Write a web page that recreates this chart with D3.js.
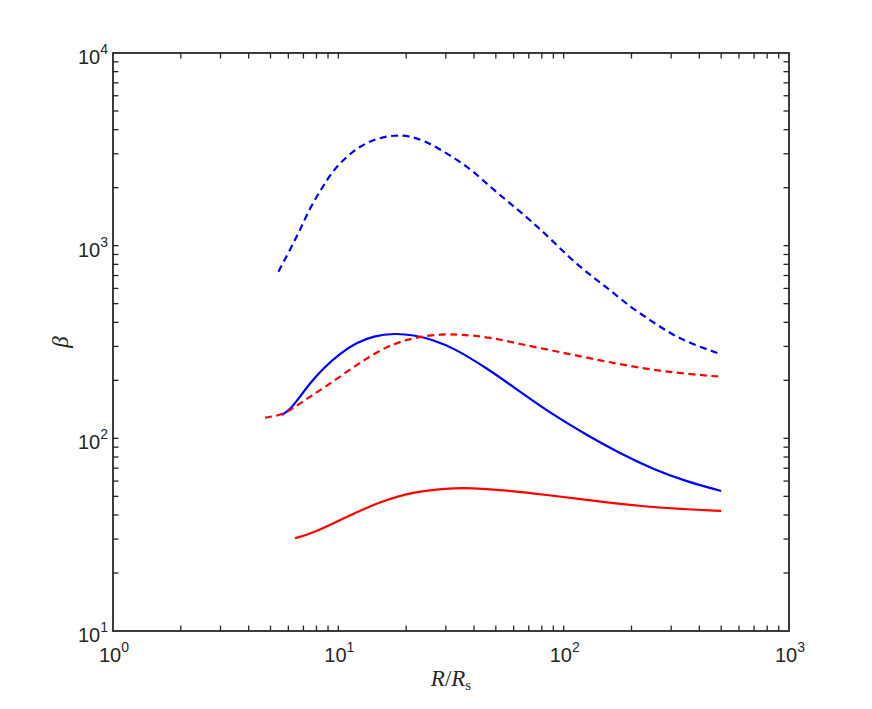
<!DOCTYPE html>
<html>
<head>
<meta charset="utf-8">
<script src="https://cdn.jsdelivr.net/npm/d3@7"></script>
<style>
  html, body { margin: 0; padding: 0; background: #fff; }
  svg { display: block; }
</style>
</head>
<body>
<svg id="chart" width="872" height="709"></svg>
<script>
// ---- Data (R/Rs, beta) ----
const blueDashedR = [5.42, 6.10, 6.76, 7.48, 8.44, 9.50, 10.9, 12.5, 14.8, 17.8, 20.8, 24.7, 30.3, 38.4, 47.1, 57.8, 70.9, 87.0, 106.7, 130.9, 160.6, 197, 241.6, 296.5, 363.7, 500];
const blueDashedB = [733, 950, 1206, 1569, 1985, 2470, 2896, 3291, 3608, 3752, 3708, 3464, 3016, 2521, 2024, 1659, 1359, 1092, 860, 704, 589, 482, 411, 351, 311, 273];

const blueSolidR = [5.61, 6.10, 6.76, 7.48, 8.58, 10.17, 12.06, 14.30, 17.8, 21.5, 26.4, 32.4, 45.5, 64.0, 89.9, 126.6, 177.8, 250, 351.6, 500];
const blueSolidB = [132.2, 140.3, 164.5, 193.1, 230.9, 276.3, 313.6, 339.8, 351, 343.9, 323.9, 295, 232, 174.7, 132.2, 104.1, 83.6, 69.1, 59.6, 53.3];

const redDashedR = [4.73, 5.61, 6.31, 7.48, 8.88, 10.9, 13.36, 16.39, 19.43, 23.04, 28.3, 34.7, 47.1, 64.0, 89.9, 126.6, 177.8, 250, 351.6, 500];
const redDashedB = [128, 132.2, 143.2, 164.5, 186.9, 221.7, 260.3, 299, 321.2, 337, 346.7, 346.7, 334.6, 308.7, 285, 262.2, 242.2, 226.3, 215.8, 208.9];

const redSolidR = [6.42, 7.74, 10.9, 15.3, 21.5, 30.3, 38.4, 59.8, 84.1, 118.2, 166.1, 233.6, 328.4, 500];
const redSolidB = [30.3, 32.2, 39.2, 46.9, 52.8, 55.0, 55.4, 53.3, 50.8, 48.4, 46.0, 44.2, 43.0, 42.0];

const xDomain = [1, 1000];
const yDomain = [10, 10000];
const xMajorExp = [0, 1, 2, 3];
const yMajorExp = [1, 2, 3, 4];

const series = [
  { R: blueDashedR, B: blueDashedB, color: "#0000ff", dash: "7,4.5" },
  { R: blueSolidR,  B: blueSolidB,  color: "#0000ff", dash: null },
  { R: redDashedR,  B: redDashedB,  color: "#ff0000", dash: "7,4.5" },
  { R: redSolidR,   B: redSolidB,   color: "#ff0000", dash: null }
];

// ---- Layout ----
const L = 113, R = 789, T = 53, B = 631;
const svg = d3.select("#chart");
const x = d3.scaleLog().domain(xDomain).range([L, R]);
const y = d3.scaleLog().domain(yDomain).range([B, T]);
const axisColor = "#262626";
const tickLen = 5.5;
const tickFont = "Liberation Sans, Arial, Helvetica, sans-serif";

// Curves
svg.append("clipPath").attr("id", "plotclip").append("rect")
  .attr("x", L).attr("y", T).attr("width", R - L).attr("height", B - T);

const line = d3.line().x(d => x(d[0])).y(d => y(d[1])).curve(d3.curveBasis);
const gLines = svg.append("g").attr("clip-path", "url(#plotclip)");
series.forEach(s => {
  const pts = s.R.map((r, i) => [r, s.B[i]]);
  gLines.append("path")
    .attr("d", line(pts))
    .attr("fill", "none")
    .attr("stroke", s.color)
    .attr("stroke-width", 2.2)
    .attr("stroke-dasharray", s.dash)
    .attr("stroke-linejoin", "round");
});

// Ticks (inward on all four sides)
const gTicks = svg.append("g").attr("stroke", axisColor).attr("stroke-width", 1.3);
x.ticks().forEach(v => {
  const px = x(v);
  if (px <= L + 0.5 || px >= R - 0.5) return;
  gTicks.append("line").attr("x1", px).attr("x2", px).attr("y1", B).attr("y2", B - tickLen);
  gTicks.append("line").attr("x1", px).attr("x2", px).attr("y1", T).attr("y2", T + tickLen);
});
y.ticks().forEach(v => {
  const py = y(v);
  if (py <= T + 0.5 || py >= B - 0.5) return;
  gTicks.append("line").attr("x1", L).attr("x2", L + tickLen).attr("y1", py).attr("y2", py);
  gTicks.append("line").attr("x1", R).attr("x2", R - tickLen).attr("y1", py).attr("y2", py);
});

// Box
svg.append("rect")
  .attr("x", L).attr("y", T).attr("width", R - L).attr("height", B - T)
  .attr("fill", "none").attr("stroke", axisColor).attr("stroke-width", 1.8);

// Tick labels
function powLabel(g, exp) {
  g.append("tspan").text("10");
  g.append("tspan").attr("dy", -10).attr("font-size", 14).text(String(exp));
}
xMajorExp.forEach(e => {
  const t = svg.append("text")
    .attr("x", x(Math.pow(10, e)) + 1)
    .attr("y", 662)
    .attr("text-anchor", "middle")
    .attr("font-family", tickFont)
    .attr("font-size", 20)
    .attr("fill", axisColor);
  powLabel(t, e);
});
yMajorExp.forEach(e => {
  const t = svg.append("text")
    .attr("x", 108)
    .attr("y", y(Math.pow(10, e)) + 11)
    .attr("text-anchor", "end")
    .attr("font-family", tickFont)
    .attr("font-size", 20)
    .attr("fill", axisColor);
  powLabel(t, e);
});

// Axis titles
const serif = "Liberation Serif, Times New Roman, DejaVu Serif, serif";
const xt = svg.append("text")
  .attr("x", (L + R) / 2)
  .attr("y", 686)
  .attr("text-anchor", "middle")
  .attr("font-family", serif)
  .attr("font-size", 23)
  .attr("fill", axisColor);
xt.append("tspan").attr("font-style", "italic").text("R");
xt.append("tspan").text("/");
xt.append("tspan").attr("font-style", "italic").text("R");
xt.append("tspan").attr("dy", 4).attr("font-size", 15).text("s");

svg.append("text")
  .attr("transform", `translate(68, ${(T + B) / 2}) rotate(-90)`)
  .attr("text-anchor", "middle")
  .attr("font-family", serif)
  .attr("font-style", "italic")
  .attr("font-size", 23)
  .attr("fill", axisColor)
  .text("β");
</script>
</body>
</html>
